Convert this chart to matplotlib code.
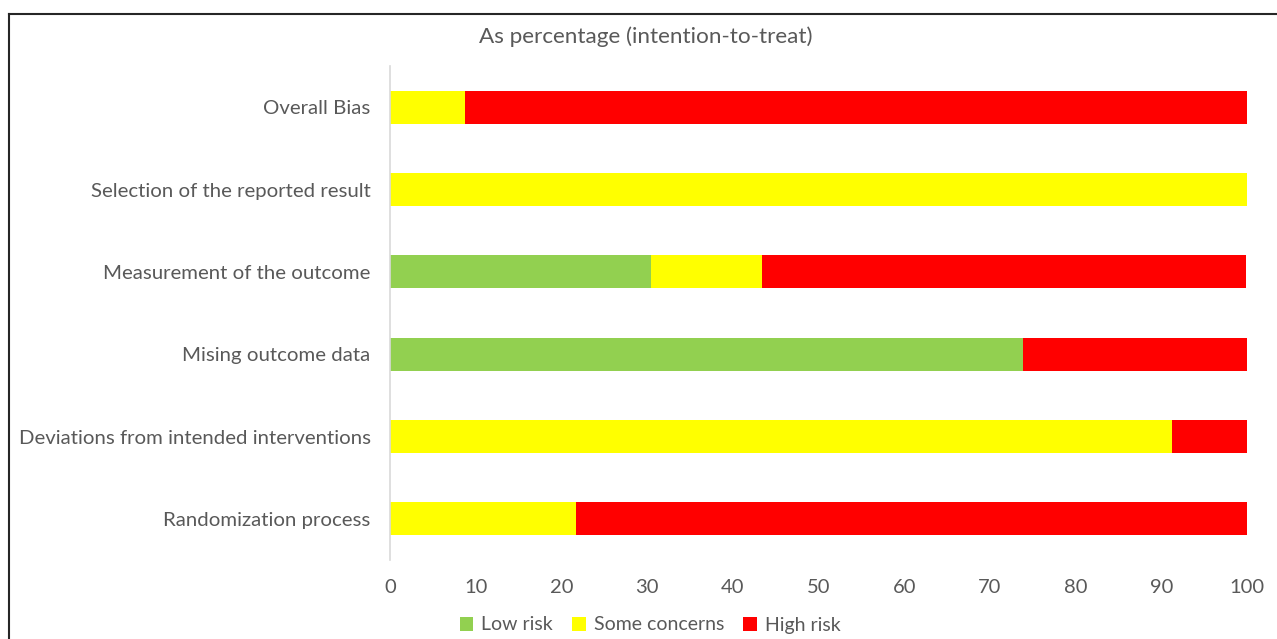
import matplotlib.pyplot as plt
from matplotlib.lines import Line2D
from matplotlib.patches import Patch

plt.rcParams['font.family'] = ['Lato', 'DejaVu Sans']

domains = [
    "Randomization process",
    "Deviations from intended interventions",
    "Mising outcome data",
    "Measurement of the outcome",
    "Selection of the reported result",
    "Overall Bias",
]
low_risk = [0.0, 0.0, 73.9, 30.4, 0.0, 0.0]
some_concerns = [21.7, 91.3, 0.0, 13.0, 100.0, 8.7]
high_risk = [78.3, 8.7, 26.1, 56.5, 0.0, 91.3]
x_ticks = [0, 10, 20, 30, 40, 50, 60, 70, 80, 90, 100]

colors = {"Low risk": "#92D050", "Some concerns": "#FFFF00", "High risk": "#FF0000"}
text_color = "#595959"

fig = plt.figure(figsize=(12.77, 6.39), dpi=100)
ax = fig.add_axes([390 / 1277, 1 - 560 / 639, (1247 - 390) / 1277, (560 - 66) / 639])

y = list(range(len(domains)))
h = 0.4
left = [0.0] * len(domains)
for name, vals in [("Low risk", low_risk), ("Some concerns", some_concerns), ("High risk", high_risk)]:
    ax.barh(y, vals, height=h, left=left, color=colors[name], label=name, linewidth=0)
    left = [a + b for a, b in zip(left, vals)]

ax.set_xlim(0, 100)
ax.set_ylim(-0.5, len(domains) - 0.5)
ax.set_xticks(x_ticks)
ax.set_yticks(y)
ax.set_yticklabels(domains)
ax.tick_params(axis='both', length=0, colors=text_color)
ax.tick_params(axis='y', pad=14, labelsize=14.7)
ax.tick_params(axis='x', pad=14, labelsize=14.5)
for s in ["top", "right", "bottom"]:
    ax.spines[s].set_visible(False)
ax.spines["left"].set_color("#D9D9D9")
ax.spines["left"].set_linewidth(1.2)

fig.text(646 / 1277, 1 - 37 / 639, "As percentage (intention-to-treat)",
         ha="center", va="center", fontsize=16.2, color=text_color)

handles = [Patch(facecolor=colors[k], edgecolor="none", label=k) for k in colors]
fig.legend(handles=handles, loc="center", bbox_to_anchor=(650 / 1277, 1 - 625 / 639),
           ncol=3, frameon=False, fontsize=14, handlelength=0.7, handleheight=0.7,
           handletextpad=0.4, columnspacing=1.0, labelcolor=text_color)

# outer frame lines
fig.add_artist(Line2D([9 / 1277, 9 / 1277], [0, 1 - 14 / 639], transform=fig.transFigure,
                      color="#262626", linewidth=1.5))
fig.add_artist(Line2D([9 / 1277, 1], [1 - 14 / 639, 1 - 14 / 639], transform=fig.transFigure,
                      color="#262626", linewidth=1.5))

fig.savefig("out.png", dpi=100)
